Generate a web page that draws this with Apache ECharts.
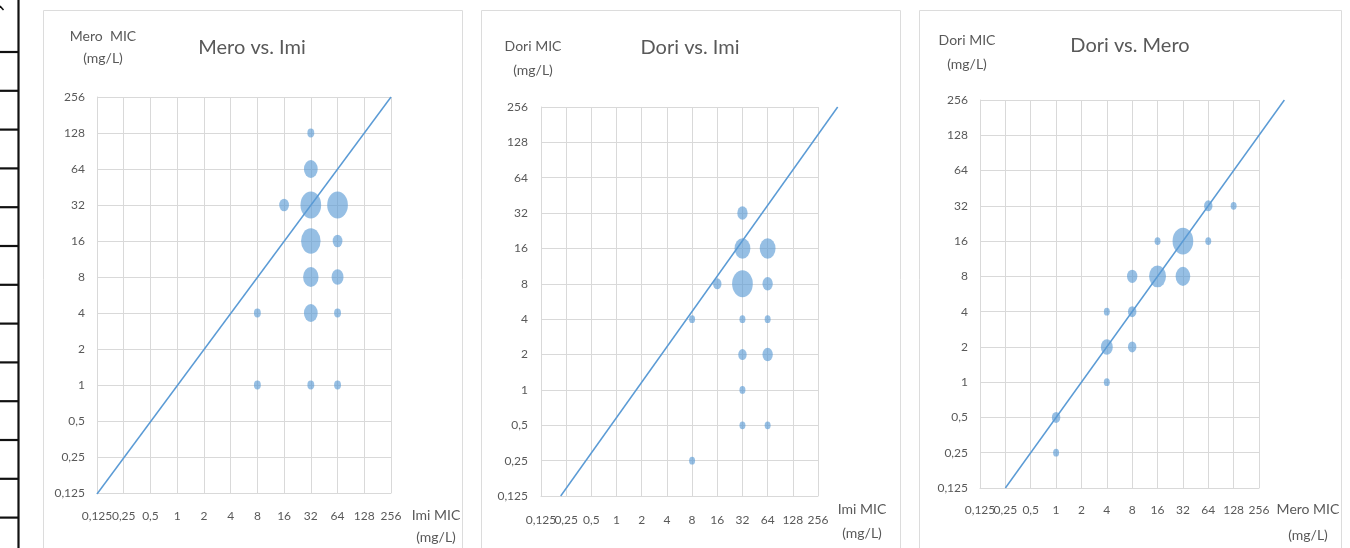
<!DOCTYPE html>
<html>
<head>
<meta charset="utf-8">
<script src="https://cdn.jsdelivr.net/npm/echarts@6/dist/echarts.min.js"></script>
<style>
html,body{margin:0;padding:0;background:#fff;}
#c{width:1350px;height:548px;}
</style>
</head>
<body>
<div id="c"></div>
<script>
// ---------- ticks (log2 axis from 0.125 to 256) ----------
const tickValues = [0.125, 0.25, 0.5, 1, 2, 4, 8, 16, 32, 64, 128, 256];
const tickLabels = ['0,125', '0,25', '0,5', '1', '2', '4', '8', '16', '32', '64', '128', '256'];

// ---------- Panel 1: Mero MIC (y) vs Imi MIC (x) ----------
const p1Imi   = [32, 32, 16, 32, 64, 32, 64, 32, 64, 8, 32, 64, 8, 32, 64];
const p1Mero  = [128, 64, 32, 32, 32, 16, 16, 8, 8, 4, 4, 4, 1, 1, 1];
const p1Count = [1, 4, 2, 9, 9, 8, 2, 5, 3, 1, 4, 1, 1, 1, 1];
const p1LineX = [0.125, 256];
const p1LineY = [0.125, 256];

// ---------- Panel 2: Dori MIC (y) vs Imi MIC (x) ----------
const p2Imi   = [32, 32, 64, 16, 32, 64, 8, 32, 64, 32, 64, 32, 32, 64, 8];
const p2Dori  = [32, 16, 16, 8, 8, 8, 4, 4, 4, 2, 2, 1, 0.5, 0.5, 0.25];
const p2Count = [3, 7, 7, 2, 12, 3, 1, 1, 1, 2, 3, 1, 1, 1, 1];
const p2LineX = [0.215, 440];
const p2LineY = [0.125, 256];

// ---------- Panel 3: Dori MIC (y) vs Mero MIC (x) ----------
const p3Mero  = [64, 128, 16, 32, 64, 8, 16, 32, 4, 8, 4, 8, 4, 1, 1];
const p3Dori  = [32, 32, 16, 16, 16, 8, 8, 8, 4, 4, 2, 2, 1, 0.5, 0.25];
const p3Count = [2, 1, 1, 12, 1, 3, 8, 6, 1, 2, 4, 2, 1, 2, 1];
const p3LineX = [0.25, 512];
const p3LineY = [0.125, 256];

// ---------- styling ----------
const FONT = "Lato, 'Noto Sans', sans-serif";
const TXT = '#595959';
const GRIDC = '#d9d9d9';
const BUBBLE = 'rgba(91,155,213,0.8)';
const LINEC = '#5B9BD5';
const MAXW = 20.7;     // width of largest bubble
const ASPECT = 1.3;    // bubbles are stretched vertically in the original

function fmt(v) {
  const idx = Math.round(Math.log2(v)) + 3;
  return tickLabels[idx] !== undefined ? tickLabels[idx] : '';
}

const panels = [
  {
    title: 'Mero vs. Imi', titleX: 252, titleTop: 38,
    xName: 'Imi MIC\n(mg/L)', yName: 'Mero  MIC\n(mg/L)',
    grid: {left: 97, top: 97, width: 294, height: 397},
    xs: p1Imi, ys: p1Mero, ns: p1Count, lx: p1LineX, ly: p1LineY, lineMaxX: 256,
    xLabelMargin: 17, yLabelMargin: 12,
    xNameGap: 45, xNamePadTop: 11, xNameLH: 22,
    yNameGap: 28, yNameLH: 22, yNamePad: [0, 0, 0, 12]
  },
  {
    title: 'Dori vs. Imi', titleX: 690, titleTop: 38,
    xName: 'Imi MIC\n(mg/L)', yName: 'Dori MIC\n(mg/L)',
    grid: {left: 541, top: 107, width: 277, height: 389},
    xs: p2Imi, ys: p2Dori, ns: p2Count, lx: p2LineX, ly: p2LineY, lineMaxX: 512,
    xLabelMargin: 18, yLabelMargin: 13,
    xNameGap: 44, xNamePadTop: 1, xNameLH: 24,
    yNameGap: 25, yNameLH: 24, yNamePad: [0, 16, 0, 0]
  },
  {
    title: 'Dori vs. Mero', titleX: 1130, titleTop: 36,
    xName: 'Mero MIC\n(mg/L)', yName: 'Dori MIC\n(mg/L)',
    grid: {left: 980, top: 100, width: 279, height: 388},
    xs: p3Mero, ys: p3Dori, ns: p3Count, lx: p3LineX, ly: p3LineY, lineMaxX: 512,
    xLabelMargin: 16, yLabelMargin: 12,
    xNameGap: 49, xNamePadTop: 8, xNameLH: 26,
    yNameGap: 24, yNameLH: 24, yNamePad: [0, 26, 0, 0]
  }
];

const option = {
  animation: false,
  backgroundColor: '#ffffff',
  title: [], grid: [], xAxis: [], yAxis: [], series: [],
  graphic: []
};

const lbl = {color: TXT, fontSize: 12, fontFamily: FONT, formatter: fmt,
             showMinLabel: true, showMaxLabel: true, hideOverlap: false};

// visible grids 0..2 (xAxis / yAxis 0..2)
panels.forEach((p, i) => {
  option.title.push({
    text: p.title, left: p.titleX, top: p.titleTop, textAlign: 'center', padding: 0,
    textStyle: {fontFamily: FONT, fontSize: 20, fontWeight: 'normal', color: TXT}
  });
  option.grid.push(Object.assign({containLabel: false}, p.grid));
  const common = {
    type: 'log', logBase: 2, min: 0.125, max: 256, gridIndex: i,
    axisLine: {show: true, onZero: false, lineStyle: {color: GRIDC, width: 1}},
    axisTick: {show: false, customValues: tickValues},
    splitLine: {show: true, lineStyle: {color: GRIDC, width: 1}},
    nameLocation: 'end'
  };
  option.xAxis.push(Object.assign({}, common, {
    position: 'bottom',
    // the 0,125 label is drawn by a companion axis (below) so ECharts keeps the touching "0,1250,25" pair
    axisLabel: Object.assign({margin: p.xLabelMargin, customValues: tickValues.slice(1)}, lbl),
    name: p.xName, nameGap: p.xNameGap,
    nameTextStyle: {fontFamily: FONT, fontSize: 14, color: TXT, align: 'center', verticalAlign: 'top',
                    lineHeight: p.xNameLH, padding: [p.xNamePadTop, 0, 0, 0]}
  }));
  option.yAxis.push(Object.assign({}, common, {
    axisLabel: Object.assign({margin: p.yLabelMargin, customValues: tickValues}, lbl),
    name: p.yName, nameGap: p.yNameGap,
    nameTextStyle: {fontFamily: FONT, fontSize: 14, color: TXT, align: 'center', verticalAlign: 'bottom',
                    lineHeight: p.yNameLH, padding: p.yNamePad}
  }));
});

// hidden grids 3..5 with the same scale, extended to the right so the
// reference line can run past the plot edge like in the original
panels.forEach((p, i) => {
  const units = Math.log2(p.lineMaxX / 0.125);
  option.grid.push({left: p.grid.left, top: p.grid.top, height: p.grid.height,
                    width: p.grid.width * units / 11, show: false});
  const gi = 3 + i;
  option.xAxis.push({type: 'log', logBase: 2, min: 0.125, max: p.lineMaxX, gridIndex: gi, show: false});
  option.yAxis.push({type: 'log', logBase: 2, min: 0.125, max: 256, gridIndex: gi, show: false});
  option.series.push({
    type: 'line', xAxisIndex: gi, yAxisIndex: gi,
    data: p.lx.map((x, k) => [x, p.ly[k]]),
    symbol: 'none', showSymbol: false, silent: true,
    lineStyle: {color: LINEC, width: 1.5}, z: 2
  });
});

// companion x axes 6..8: only the first tick label (0,125)
panels.forEach((p, i) => {
  option.xAxis.push({
    type: 'log', logBase: 2, min: 0.125, max: 256, gridIndex: i, position: 'bottom',
    axisLine: {show: false}, splitLine: {show: false},
    axisTick: {show: false, customValues: tickValues.slice(0, 1)},
    axisLabel: Object.assign({margin: p.xLabelMargin, customValues: tickValues.slice(0, 1)}, lbl)
  });
});

panels.forEach((p, i) => {
  const maxN = Math.max.apply(null, p.ns);
  option.series.push({
    type: 'scatter', xAxisIndex: i, yAxisIndex: i,
    data: p.xs.map((x, k) => [x, p.ys[k], p.ns[k]]),
    symbolSize: function (val) {
      const w = MAXW * Math.sqrt(val[2] / maxN);
      return [w, w * ASPECT];
    },
    itemStyle: {color: BUBBLE}, z: 3
  });
});

// panel frames
[[43.5, 419], [481.5, 419], [919.5, 422]].forEach(([x, w]) => {
  option.graphic.push({
    type: 'rect', silent: true, z: -10,
    shape: {x: x, y: 10.5, width: w, height: 600},
    style: {fill: 'none', stroke: '#dcdcdc', lineWidth: 1}
  });
});
// table fragment at the far left edge
option.graphic.push({type: 'line', silent: true, shape: {x1: 18.5, y1: 0, x2: 18.5, y2: 548}, style: {stroke: '#111', lineWidth: 2.2}});
for (let k = 0; k < 13; k++) {
  const y = 52 + k * 38.8;
  option.graphic.push({type: 'line', silent: true, shape: {x1: 0, y1: y, x2: 19, y2: y}, style: {stroke: '#111', lineWidth: 2.2}});
}
option.graphic.push({type: 'line', silent: true, shape: {x1: 0, y1: 6, x2: 3.5, y2: 10}, style: {stroke: '#111', lineWidth: 1.5}});

const chart = echarts.init(document.getElementById('c'), null, {renderer: 'canvas'});
chart.setOption(option);
</script>
</body>
</html>
